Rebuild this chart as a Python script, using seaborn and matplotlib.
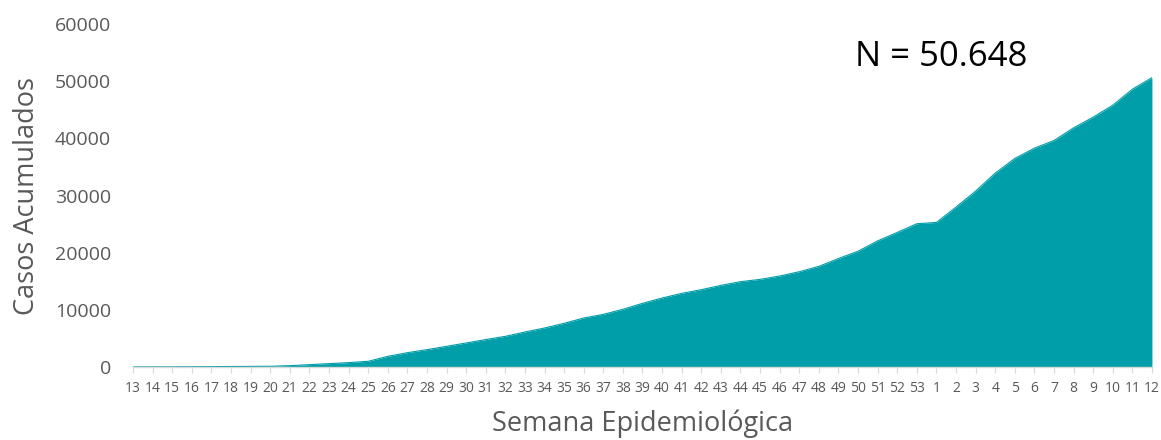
import matplotlib
matplotlib.use("Agg")
import matplotlib.pyplot as plt
import seaborn as sns
import pandas as pd
import numpy as np

weeks = [str(w) for w in range(13, 54)] + [str(w) for w in range(1, 13)]
cases = [5, 15, 25, 40, 60, 80, 100, 120, 230, 400, 580, 760, 990,
         1860, 2500, 3030, 3610, 4200, 4800, 5360, 6120, 6820, 7640, 8570,
         9210, 10090, 11140, 12070, 12880, 13530, 14280, 14930, 15330, 15920,
         16670, 17610, 18980, 20260, 22070, 23550, 25070, 25300,
         27980, 30780, 33930, 36500, 38300, 39640, 41860, 43730, 45820,
         48620, 50648]
total_label = "N = 50.648"

df = pd.DataFrame({"idx": np.arange(len(weeks)), "week": weeks, "cases": cases})

sns.set_theme(style="white")
plt.rcParams['font.family'] = ['Open Sans', 'DejaVu Sans']

fig = plt.figure(figsize=(11.61, 4.40), dpi=100)
ax = fig.add_axes([0.1146, 0.166, 0.8776, 0.779])

color = "#009EA8"
sns.lineplot(data=df, x="idx", y="cases", ax=ax, color=color, linewidth=0.8)
ax.fill_between(df["idx"], df["cases"], 0, color=color, linewidth=0)

ax.set_xlim(0, len(weeks) - 1)
ax.set_ylim(0, 60000)
ax.set_yticks(range(0, 60001, 10000))
ax.set_xticks(df["idx"])
ax.set_xticklabels(weeks)
ax.tick_params(axis="x", labelsize=10, colors="#595959", length=4, width=0.8,
               direction="out", bottom=True, pad=6)
ax.tick_params(axis="x", color="#D9D9D9")
ax.tick_params(axis="y", labelsize=14, labelcolor="#595959", length=0, pad=16)

for s in ["top", "right", "left"]:
    ax.spines[s].set_visible(False)
ax.spines["bottom"].set_color("#D9D9D9")
ax.spines["bottom"].set_linewidth(1)

ax.set_xlabel("Semana Epidemiológica", fontsize=19.5, color="#595959", labelpad=10)
ax.set_ylabel("Casos Acumulados", fontsize=19.5, color="#595959", labelpad=10)

ax.text(0.7085, 0.904, total_label, transform=ax.transAxes, fontsize=25,
        color="black", ha="left", va="center")

fig.savefig("out.png", dpi=100)
